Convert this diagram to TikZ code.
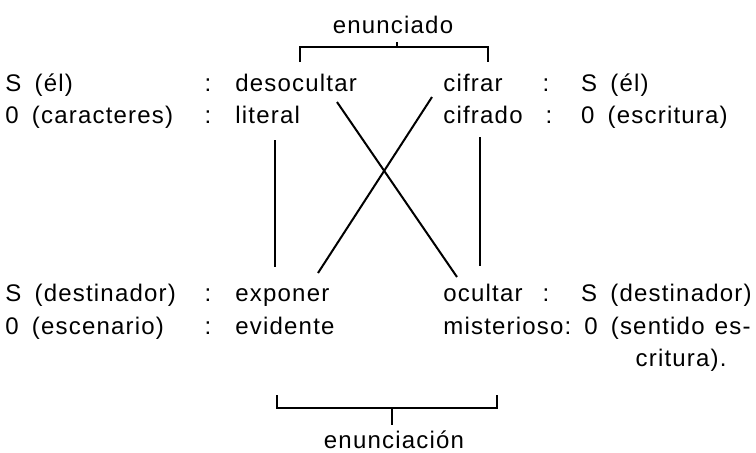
\documentclass[tikz,border=0pt]{standalone}
\usepackage{fontspec}
\setmainfont{Liberation Sans}[LetterSpace=5,WordSpace=1.3]
\newcommand{\labgap}{\hspace{0.55em}}

\begin{document}
\begin{tikzpicture}[x=0.5pt,y=-0.5pt,
    every node/.style={inner sep=0pt,text height=8.6pt,text depth=0pt,
      font=\fontsize{12}{14}\selectfont},
    word/.style={anchor=west},
    link/.style={line width=1pt}]
    \useasboundingbox (0,0) rectangle (756,452);
    % Left column
    \node[word] (sel) at (5,83) {S\labgap(él)};
    \node[word] (ocar) at (5,115) {0\labgap(caracteres)};
    \node[word] (sdes) at (5,293) {S\labgap(destinador)};
    \node[word] (oesc) at (5,326) {0\labgap(escenario)};
    \foreach \y/\n in {83/1,115/2,293/3,326/4}
      \node (cl\n) at (208,\y) {:};
    % Middle columns
    \node[word] (desocultar) at (235,83) {desocultar};
    \node[word] (literal) at (235,115) {literal};
    \node[word] (exponer) at (235,293) {exponer};
    \node[word] (evidente) at (235,326) {evidente};
    \node[word] (cifrar) at (443,83) {cifrar};
    \node[word] (cifrado) at (443,115) {cifrado};
    \node[word] (ocultar) at (443,293) {ocultar};
    \node[word] (misterioso) at (443,326) {misterioso:};
    % Right column
    \node[anchor=east] (sdesr) at (752,293) {S\labgap(destinador)};
    \node[anchor=east] (osen) at (751,326) {0\labgap(sentido es-};
    \node[anchor=east] (ocri) at (727,358) {critura).};
    \node[word] (selr) at (sdesr.west |- 0,83) {S\labgap(él)};
    \node[word] (oesr) at (sdesr.west |- 0,115) {0\labgap(escritura)};
    \foreach \y/\x/\n in {83/546/1,115/549/2,293/546/3}
      \node (cr\n) at (\x,\y) {:};
    % Links
    \draw[link] ([shift={(40,25)}]literal.west) -- ([shift={(40,-26)}]exponer.west);
    \draw[link] ([shift={(37,22)}]cifrado.west) -- ([shift={(37,-27)}]ocultar.west);
    \draw[link] ([shift={(102,-13)}]literal.west) -- ([shift={(14,-16)}]ocultar.west);
    \draw[link] ([shift={(-11,-18)}]cifrado.west) -- ([shift={(83,-20)}]exponer.west);
    % Brackets
    \node (enunciado) at (393,25) {enunciado};
    \draw[link] ([shift={(65,-21)}]desocultar.west) |- ([shift={(45,-36)}]cifrar.west)
      -- ([shift={(45,-21)}]cifrar.west);
    \draw[link] ([shift={(4,17)}]enunciado.center) -- ([shift={(4,22)}]enunciado.center);
    \node (enunciacion) at (394,440) {enunciación};
    \draw[link] ([shift={(-117,-45)}]enunciacion.center) |- ([shift={(103,-32)}]enunciacion.center)
      -- ([shift={(103,-45)}]enunciacion.center);
    \draw[link] ([shift={(-2,-32)}]enunciacion.center) -- ([shift={(-2,-15)}]enunciacion.center);
\end{tikzpicture}
\end{document}
